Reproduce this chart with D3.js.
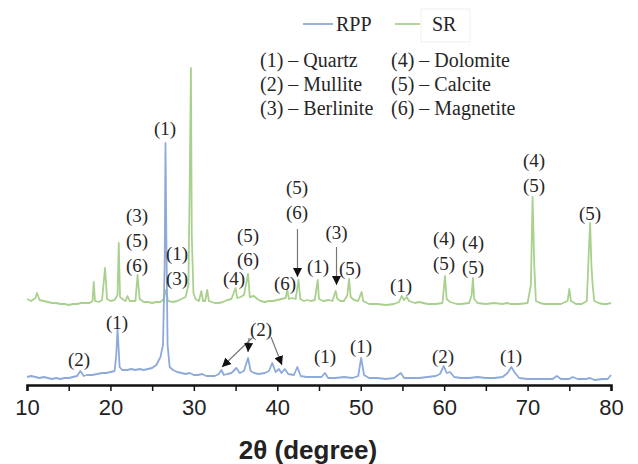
<!DOCTYPE html>
<html>
<head>
<meta charset="utf-8">
<script src="https://cdn.jsdelivr.net/npm/d3@7"></script>
<style>
  body { margin: 0; background: #fff; }
  svg { display: block; }
</style>
</head>
<body>
<div id="chart"></div>
<script>
// XRD patterns, intensity in arbitrary units
const rpp = [
  [10.0, 8], [10.5, 9], [11, 8], [11.5, 7], [12, 8], [12.5, 7], [13, 6], [13.5, 7], [14, 6], [14.5, 7],
  [15, 7], [15.5, 8], [16, 9], [16.4, 14], [16.8, 9], [17.2, 10], [17.8, 10], [18.4, 11], [19, 12], [19.5, 12],
  [20, 13], [20.5, 14], [20.7, 30], [20.85, 56], [20.95, 42], [21.1, 18], [21.4, 15], [22, 15], [22.5, 16], [23, 15],
  [23.5, 16], [24, 15], [24.5, 16], [25, 17], [25.5, 20], [26, 28], [26.3, 40], [26.5, 120], [26.6, 242], [26.7, 150],
  [26.85, 40], [27.1, 18], [27.5, 15], [28, 13], [28.5, 12], [29, 11], [29.5, 12], [30, 10], [30.5, 10], [31, 11],
  [31.5, 9], [32, 9], [32.5, 9], [33, 11], [33.3, 15], [33.6, 10], [34, 11], [34.5, 12], [35.1, 17], [35.5, 12],
  [36, 14], [36.5, 27], [36.8, 14], [37.2, 12], [37.8, 11], [38.5, 12], [39, 14], [39.4, 22], [39.8, 13], [40.2, 16],
  [40.5, 12], [40.9, 16], [41.3, 11], [42, 10], [42.4, 18], [42.8, 9], [43.5, 8], [44.5, 8], [45.3, 8], [45.7, 12],
  [46.1, 7], [47, 7], [48, 8], [49, 7], [49.7, 9], [50.05, 27], [50.4, 10], [51, 7], [52, 7], [53, 6],
  [54, 7], [54.8, 12], [55.2, 7], [56, 7], [57, 7], [58, 8], [59, 9], [59.5, 11], [59.95, 19], [60.3, 12],
  [60.7, 13], [61.2, 8], [62, 7], [63, 7], [64, 8], [65, 7], [66, 7], [67, 8], [67.6, 12], [68.05, 18],
  [68.5, 12], [69, 7], [70, 6], [71, 6], [72, 6], [73, 6], [73.5, 9], [74, 6], [75, 6], [75.4, 8],
  [76, 6], [77, 6], [77.5, 7], [78, 5], [79, 6], [79.6, 6], [80, 10]
];

const sr = [
  [10, 86], [10.5, 84], [11, 87], [11.2, 92], [11.5, 85], [12, 84], [12.5, 83], [13, 82], [13.5, 82], [14, 81],
  [14.5, 81], [15, 80], [15.5, 81], [16, 81], [16.5, 82], [17, 82], [17.5, 82], [17.85, 84], [18.0, 103], [18.15, 84],
  [18.6, 83], [19.0, 85], [19.35, 117], [19.6, 86], [20.0, 84], [20.5, 85], [20.85, 90], [21.0, 142], [21.15, 88], [21.6, 85],
  [21.8, 84], [22.05, 89], [22.3, 84], [23.0, 84], [23.25, 110], [23.5, 86], [24, 83], [24.5, 83], [25, 82], [25.5, 83],
  [26, 83], [26.4, 86], [26.65, 95], [26.9, 84], [27.5, 83], [28, 84], [28.5, 86], [29.0, 88], [29.35, 100], [29.5, 200],
  [29.65, 317], [29.75, 150], [29.95, 92], [30.2, 86], [30.6, 84], [30.9, 94], [31.1, 84], [31.35, 84], [31.6, 95], [31.8, 84],
  [32.5, 82], [33, 82], [33.5, 83], [34, 85], [34.5, 86], [35.0, 97], [35.2, 87], [35.6, 88], [36.0, 90], [36.5, 111],
  [36.7, 88], [37.2, 89], [37.6, 86], [38, 84], [38.5, 83], [39, 84], [39.5, 84], [40, 85], [40.5, 86], [41.0, 87],
  [41.2, 95], [41.4, 86], [41.8, 87], [42.2, 86], [42.55, 105], [42.75, 86], [43.2, 84], [43.6, 85], [44.0, 84], [44.5, 85],
  [44.85, 105], [45.0, 86], [45.5, 84], [46.2, 85], [46.6, 84], [47.0, 94], [47.2, 86], [47.6, 84], [48.0, 84], [48.4, 90],
  [48.6, 106], [48.8, 88], [49.2, 85], [49.7, 84], [50.1, 93], [50.3, 84], [51, 81], [52, 81], [53, 80], [54, 81],
  [54.6, 83], [54.9, 89], [55.2, 85], [55.5, 88], [55.8, 84], [56.5, 82], [57, 83], [58, 81], [59, 81], [59.8, 82],
  [60.1, 109], [60.3, 86], [60.7, 83], [61.5, 81], [62, 81], [63, 82], [63.3, 90], [63.45, 107], [63.6, 86], [64, 82],
  [65, 81], [66, 82], [67, 81], [67.5, 82], [68, 81], [69, 81], [70, 82], [70.4, 100], [70.6, 188], [70.8, 120],
  [71.0, 84], [71.5, 82], [72, 81], [73, 81], [74, 81], [74.8, 84], [75.0, 96], [75.2, 84], [75.8, 81], [76.5, 81],
  [77.1, 84], [77.35, 135], [77.5, 162], [77.65, 120], [77.8, 100], [78, 84], [78.5, 82], [79, 81], [79.5, 81], [80, 82]
];

const seriesNames = ['RPP', 'SR'];
const phaseNames = ['(1) – Quartz', '(2) – Mullite', '(3) – Berlinite', '(4) – Dolomite', '(5) – Calcite', '(6) – Magnetite'];
const tickValues = [10, 15, 20, 25, 30, 35, 40, 45, 50, 55, 60, 65, 70, 75, 80];

// peak labels: [2θ, intensity, text]
const peakLabels = [
  [26.54, 257, '(1)'],
  [23.18, 170, '(3)'], [23.18, 145, '(5)'], [23.18, 120, '(6)'],
  [27.98, 132, '(1)'], [27.98, 107, '(3)'],
  [34.81, 107, '(4)'],
  [36.49, 150, '(5)'], [36.49, 126, '(6)'],
  [40.92, 102, '(6)'],
  [42.36, 198, '(5)'], [42.36, 173, '(6)'],
  [44.88, 119, '(1)'],
  [47.1, 153, '(3)'],
  [48.72, 117, '(5)'],
  [54.83, 100, '(1)'],
  [59.98, 147, '(4)'], [59.98, 122, '(5)'],
  [63.46, 143, '(4)'], [63.46, 118, '(5)'],
  [70.77, 225, '(4)'], [70.77, 200, '(5)'],
  [77.48, 172, '(5)'],
  [16.23, 26, '(2)'],
  [20.79, 63, '(1)'],
  [38.05, 56, '(2)'],
  [45.72, 29, '(1)'],
  [50.03, 39, '(1)'],
  [59.86, 29, '(2)'],
  [68.01, 29, '(1)']
];

// arrows: [from 2θ, from I, to 2θ, to I]
const arrows = [
  [42.42, 156, 42.42, 108],
  [47.1, 138, 47.1, 100],
  [36.97, 47, 33.37, 18],
  [36.61, 47, 36.49, 33],
  [39.25, 48, 40.56, 20]
];

const width = 638;
const height = 464;
const blue = '#8eaadb';
const green = '#a9d18e';
const serif = '"Liberation Serif", "Times New Roman", serif';
const sans = '"Liberation Sans", Arial, sans-serif';

const svg = d3.select('#chart').append('svg')
  .attr('width', width)
  .attr('height', height);

const x = d3.scaleLinear().domain([10, 80]).range([27, 611]);
const y = d3.scaleLinear().domain([0, 320]).range([385, 65]);

const line = d3.line()
  .x(d => x(d[0]))
  .y(d => y(d[1]));

svg.append('defs').append('marker')
  .attr('id', 'head')
  .attr('viewBox', '0 0 10 10')
  .attr('refX', 10)
  .attr('refY', 5)
  .attr('markerWidth', 9)
  .attr('markerHeight', 9)
  .attr('markerUnits', 'userSpaceOnUse')
  .attr('orient', 'auto')
  .append('path')
  .attr('d', 'M0,0L10,5L0,10Z')
  .attr('fill', '#111');

svg.append('path')
  .datum(sr)
  .attr('fill', 'none')
  .attr('stroke', green)
  .attr('stroke-width', 1.8)
  .attr('stroke-linejoin', 'round')
  .attr('d', line);

svg.append('path')
  .datum(rpp)
  .attr('fill', 'none')
  .attr('stroke', blue)
  .attr('stroke-width', 1.8)
  .attr('stroke-linejoin', 'round')
  .attr('d', line);

// x axis
const axis = svg.append('g')
  .attr('transform', `translate(0,${y(0)})`)
  .call(d3.axisBottom(x)
    .tickValues(tickValues)
    .tickSize(6)
    .tickPadding(8)
    .tickFormat(d => (d % 10 === 0 ? d : '')));
axis.select('.domain').attr('stroke', '#111').attr('stroke-width', 2.5);
axis.selectAll('.tick line').attr('stroke', '#111').attr('stroke-width', 1.5);
axis.selectAll('.tick text')
  .attr('font-family', sans)
  .attr('font-size', 22)
  .attr('fill', '#222');

svg.append('text')
  .attr('x', 308)
  .attr('y', 459)
  .attr('text-anchor', 'middle')
  .attr('font-family', sans)
  .attr('font-weight', 'bold')
  .attr('font-size', 26)
  .attr('fill', '#222')
  .text('2θ (degree)');

// arrows
svg.selectAll('.arrow')
  .data(arrows)
  .join('line')
  .attr('class', 'arrow')
  .attr('x1', d => x(d[0]))
  .attr('y1', d => y(d[1]))
  .attr('x2', d => x(d[2]))
  .attr('y2', d => y(d[3]))
  .attr('stroke', '#777')
  .attr('stroke-width', 1.2)
  .attr('marker-end', 'url(#head)');

// peak labels
svg.selectAll('.peak')
  .data(peakLabels)
  .join('text')
  .attr('class', 'peak')
  .attr('x', d => x(d[0]))
  .attr('y', d => y(d[1]))
  .attr('dy', '0.35em')
  .attr('text-anchor', 'middle')
  .attr('font-family', serif)
  .attr('font-size', 19)
  .attr('fill', '#262626')
  .text(d => d[2]);

// series legend
const legend = svg.append('g');
legend.append('rect')
  .attr('x', 421).attr('y', 9).attr('width', 49).attr('height', 33)
  .attr('fill', 'none').attr('stroke', '#efefef');
const legendItems = [
  { name: seriesNames[0], color: blue, x0: 303, x1: 333, tx: 336 },
  { name: seriesNames[1], color: green, x0: 395, x1: 420, tx: 432 }
];
legendItems.forEach(d => {
  legend.append('line')
    .attr('x1', d.x0).attr('x2', d.x1)
    .attr('y1', 24).attr('y2', 24)
    .attr('stroke', d.color).attr('stroke-width', 1.8);
  legend.append('text')
    .attr('x', d.tx).attr('y', 24).attr('dy', '0.35em')
    .attr('font-family', serif).attr('font-size', 20).attr('fill', '#262626')
    .text(d.name);
});

// phase key
svg.selectAll('.phase')
  .data(phaseNames)
  .join('text')
  .attr('class', 'phase')
  .attr('x', (_, i) => (i < 3 ? 260 : 391))
  .attr('y', (_, i) => 60 + (i % 3) * 24)
  .attr('dy', '0.35em')
  .attr('font-family', serif)
  .attr('font-size', 20)
  .attr('fill', '#262626')
  .text(d => d);
</script>
</body>
</html>
